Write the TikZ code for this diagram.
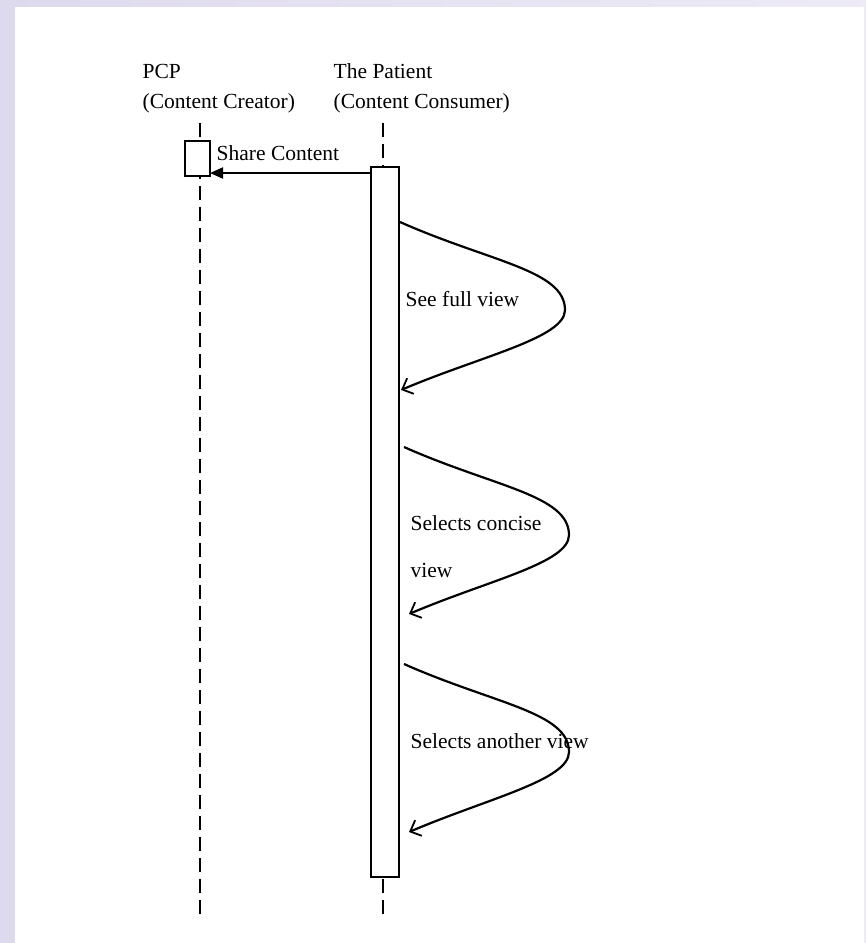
\documentclass[tikz,border=0pt]{standalone}
\usepackage{fontspec}
\setmainfont{Liberation Serif}
\usetikzlibrary{arrows.meta}
\definecolor{lavender}{RGB}{222,218,238}

\begin{document}
\begin{tikzpicture}[x=1pt, y=-1pt, line width=1.4pt,
  lbl/.style={anchor=base west, inner sep=0pt, font=\fontsize{21.5}{25}\selectfont},
  lifeline/.style={dash pattern=on 14pt off 7pt, line width=1.4pt},
  actbox/.style={draw, fill=white, inner sep=0pt, outer sep=0pt, line width=1.8pt},
  selfmsg/.style={-{Straight Barb[length=9pt,width=17pt,line width=1.8pt]}, line width=2.2pt}]
\useasboundingbox (0,0) rectangle (866,943);
\fill[left color=lavender, right color=lavender!55] (0,0) rectangle (866,943);
\fill[white] (15,7) rectangle (864,943);

\coordinate (pcptop) at (200,123);
\coordinate (pcpbot) at (200,919);
\coordinate (pattop) at (383,123);
\coordinate (patbot) at (383,919);

\node[lbl] (pcp) at (142,78) {PCP};
\node[lbl] (pcprole) at (142,108) {(Content Creator)};
\node[lbl] (pat) at (333,78) {The Patient};
\node[lbl] (patrole) at (333,108) {(Content Consumer)};

\draw[lifeline] (pcptop) -- (pcpbot);
\draw[lifeline] (pattop) -- (patbot);

\node[actbox, minimum width=25pt, minimum height=35pt] (pcpact) at (197.5,158.5) {};
\node[actbox, minimum width=28pt, minimum height=710pt] (patact) at (385,522) {};

\coordinate (m1s) at (371,173);
\coordinate (m1e) at (210,173);
\draw[-{Triangle[length=13pt,width=11pt]}, line width=2pt] (m1s) -- (m1e);
\node[lbl] (share) at (216,160) {Share Content};

\coordinate (s1) at (400,222);
\coordinate (p1) at (565,310);
\coordinate (e1) at (401,390);
\coordinate (s2) at (404,447);
\coordinate (p2) at (569,535);
\coordinate (e2) at (409,614);
\coordinate (s3) at (404,664);
\coordinate (p3) at (569,752);
\coordinate (e3) at (409,832);

\draw[selfmsg] (s1) .. controls +(90,40) and +(0,-40) .. (p1) .. controls +(0,28) and +(80,-34) .. (e1);
\node[lbl] (full) at (405,306) {See full view};

\draw[selfmsg] (s2) .. controls +(90,40) and +(0,-40) .. (p2) .. controls +(0,28) and +(80,-34) .. (e2);
\node[lbl] (concise) at (410,530) {Selects concise};
\node[lbl] (concise2) at (410,577) {view};

\draw[selfmsg] (s3) .. controls +(90,40) and +(0,-40) .. (p3) .. controls +(0,28) and +(80,-34) .. (e3);
\node[lbl] (another) at (410,748) {Selects another view};
\end{tikzpicture}
\end{document}
